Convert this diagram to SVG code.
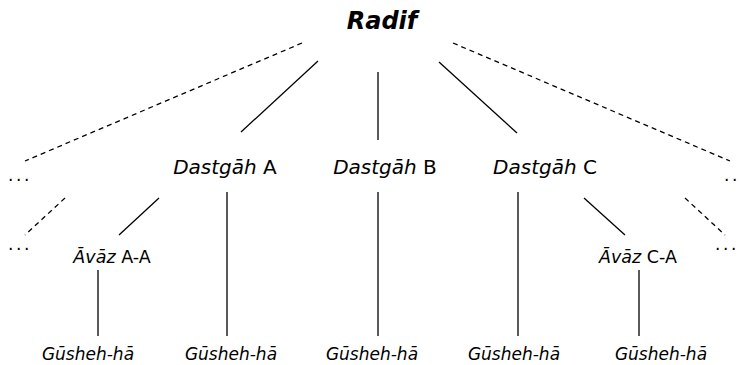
<svg xmlns="http://www.w3.org/2000/svg" width="740" height="365" viewBox="0 0 740 365">
<style>
text{font-family:"DejaVu Sans","Noto Sans",sans-serif;fill:#000}
.t{text-anchor:middle}
.it{font-style:italic}
.main{font-size:24px;font-weight:bold;font-style:italic}
.dg{font-size:20px}
.av{font-size:17.5px}
.gu{font-size:17px;font-style:italic}
.dots{font-size:17px;letter-spacing:2.6px}
.s{stroke:#000;stroke-width:1.3;fill:none}
.d{stroke:#000;stroke-width:1.3;fill:none;stroke-dasharray:5,4}
</style>
<g id="connectors">
<line class="d" x1="302" y1="43" x2="25" y2="161"/>
<line class="d" x1="453" y1="43" x2="730" y2="161"/>
<line class="d" x1="65" y1="198" x2="25" y2="235"/>
<line class="d" x1="685" y1="198" x2="725" y2="235"/>
<line class="s" x1="318" y1="61" x2="241" y2="132"/>
<line class="s" x1="378" y1="72" x2="378" y2="140"/>
<line class="s" x1="439" y1="62" x2="517" y2="133"/>
<line class="s" x1="159" y1="198" x2="119" y2="235"/>
<line class="s" x1="227" y1="192" x2="227" y2="336"/>
<line class="s" x1="378" y1="192" x2="378" y2="336"/>
<line class="s" x1="518" y1="192" x2="518" y2="336"/>
<line class="s" x1="584" y1="198" x2="625" y2="235"/>
<line class="s" x1="98" y1="270" x2="98" y2="336"/>
<line class="s" x1="639" y1="270" x2="639" y2="336"/>
</g>
<g id="radif"><text class="t main" x="382" y="29">Radif</text></g>
<g id="dastgah-a"><text class="t dg" x="225" y="174"><tspan class="it">Dastgāh</tspan> A</text></g>
<g id="dastgah-b"><text class="t dg" x="385" y="174"><tspan class="it">Dastgāh</tspan> B</text></g>
<g id="dastgah-c"><text class="t dg" x="545" y="174"><tspan class="it">Dastgāh</tspan> C</text></g>
<g id="avaz-a"><text class="t av" x="112" y="263"><tspan class="it">Āvāz</tspan> A-A</text></g>
<g id="avaz-c"><text class="t av" x="638" y="263"><tspan class="it">Āvāz</tspan> C-A</text></g>
<g id="gusheh-1"><text class="t gu" x="88" y="360">Gūsheh-hā</text></g>
<g id="gusheh-2"><text class="t gu" x="231" y="360">Gūsheh-hā</text></g>
<g id="gusheh-3"><text class="t gu" x="372" y="360">Gūsheh-hā</text></g>
<g id="gusheh-4"><text class="t gu" x="514" y="360">Gūsheh-hā</text></g>
<g id="gusheh-5"><text class="t gu" x="661" y="360">Gūsheh-hā</text></g>
<g id="ellipsis-lt"><text class="dots" x="8" y="181">...</text></g>
<g id="ellipsis-lb"><text class="dots" x="8" y="250">...</text></g>
<g id="ellipsis-rt"><text class="dots" x="724" y="181">..</text></g>
<g id="ellipsis-rb"><text class="dots" x="715" y="250">...</text></g>
</svg>
